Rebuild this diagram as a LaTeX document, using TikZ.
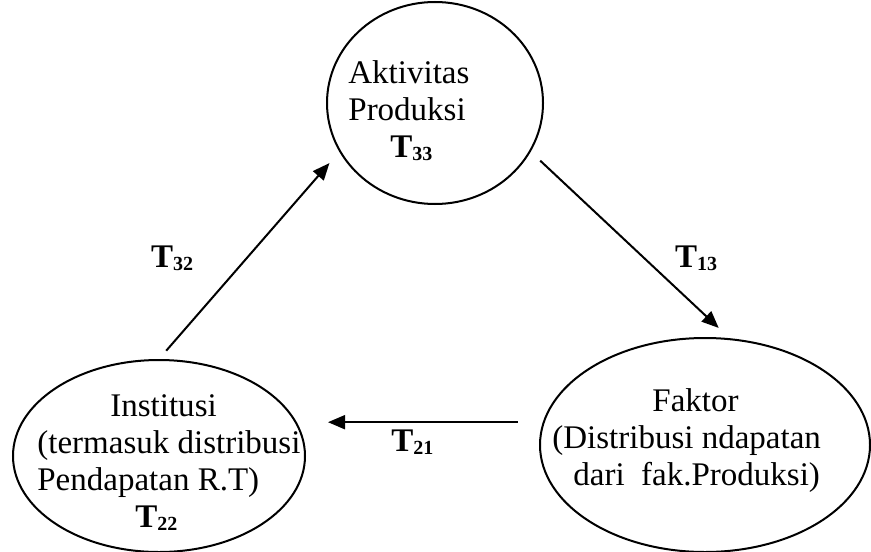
\documentclass[tikz,border=0pt]{standalone}
\usepackage{fontspec}
\setmainfont{Liberation Serif}
\usetikzlibrary{arrows.meta,shapes.geometric,positioning}
\newcommand{\tsub}[1]{\raisebox{-1.5pt}{\fontsize{10}{10}\selectfont #1}}

\begin{document}
\begin{tikzpicture}[x=0.5pt, y=-0.5pt,
    every node/.style={font=\fontsize{16.5}{18.5}\selectfont},
    sector/.style={ellipse, draw, line width=1pt, inner sep=0pt},
    txt/.style={align=left, inner sep=0pt, anchor=base west},
    flow/.style={-{Triangle[length=8.5pt,width=7pt]}, line width=1pt},
    tlabel/.style={font=\fontsize{16.5}{18.5}\selectfont\bfseries, inner sep=0pt},
    ]
  \useasboundingbox (0,0) rectangle (871,551);

  % sectors
  \node[sector, minimum width=108pt, minimum height=101pt] (akt) at (435,103) {};
  \node[sector, minimum width=146pt, minimum height=96pt] (inst) at (159,456) {};
  \node[sector, minimum width=165pt, minimum height=107pt] (fak) at (705,445) {};

  % texts (base = last line)
  \node[txt] (akttext) at ([shift={(-87,54)}]akt.center)
    {Aktivitas\\Produksi\\\hspace*{21pt}\textbf{T\tsub{33}}};
  \node[txt] (insttext) at ([shift={(-122,71)}]inst.center)
    {\hspace*{36.5pt}Institusi\\(termasuk distribusi\\Pendapatan R.T)\\\hspace*{49pt}\textbf{T\tsub{22}}};
  \node[txt] (faktext) at ([shift={(-153,40)}]fak.center)
    {\hspace*{50pt}Faktor\\(Distribusi ndapatan\\\hspace*{10.5pt}dari\ \ fak.Produksi)};

  % flows
  \draw[flow, shorten <=5.5pt, shorten >=7.5pt] (inst.north) -- (akt.207)
    node[tlabel, midway, xshift=-38.5pt, yshift=-1.25pt] {T\tsub{32}};
  \draw[flow, shorten <=6.5pt, shorten >=7.5pt] (akt.333) -- (fak.77)
    node[tlabel, midway, xshift=33pt, yshift=-6.5pt] {T\tsub{13}};
  \draw[flow, shorten <=12.5pt, shorten >=11pt] (fak.172) -- (fak.172 -| inst.east)
    node[tlabel, midway, xshift=-6pt, yshift=-10pt] {T\tsub{21}};

\end{tikzpicture}
\end{document}
